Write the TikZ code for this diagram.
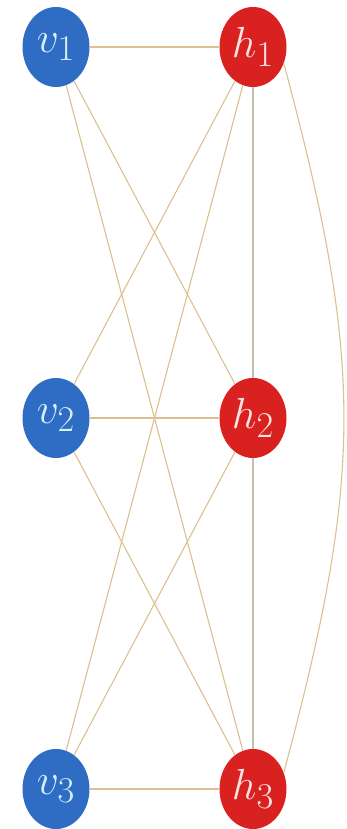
\documentclass[tikz,border=0pt]{standalone}
\usepackage{graphicx}
\usetikzlibrary{shapes.geometric}
\definecolor{vblue}{HTML}{2F6CC4}
\definecolor{hred}{HTML}{D92120}
\definecolor{edgetan}{HTML}{DDBF90}
\definecolor{edgegrey}{HTML}{C9BFAE}
\definecolor{vlabel}{HTML}{D6F0FA}
\definecolor{hlabel}{HTML}{FCE4E4}
\newcommand{\unitlabel}[1]{\scalebox{1.75}{$#1$}}
\begin{document}
\begin{tikzpicture}[x=1pt,y=1pt]
  \tikzset{
    unit/.style={ellipse,minimum width=67pt,minimum height=80pt,inner sep=0pt,
      font=\Huge},
    visible/.style={unit,fill=vblue,text=vlabel},
    hidden/.style={unit,fill=hred,text=hlabel},
    link/.style={edgetan,line width=1.1pt}
  }
  \useasboundingbox (0,0) rectangle (346,829);
  \foreach \i/\y in {1/782,2/411,3/40} {
    \node[visible] (v\i) at (56,\y) {\unitlabel{v_\i}};
    \node[hidden] (h\i) at (253,\y) {\unitlabel{h_\i}};
  }
  % every visible unit to every hidden unit
  \foreach \i in {1,2,3} {
    \foreach \j in {1,2,3} {
      \draw[link] (v\i) -- (h\j);
    }
  }
  \draw[link,edgegrey] (h1) -- (h2);
  \draw[link,edgegrey] (h2) -- (h3);
  \draw[link] (h1.-28) to[out=-75,in=75,looseness=1.12] (h3.28);
\end{tikzpicture}
\end{document}
